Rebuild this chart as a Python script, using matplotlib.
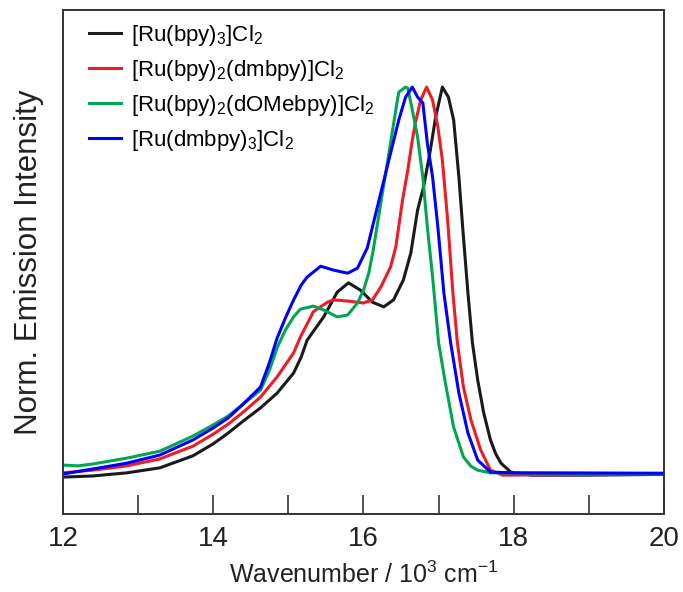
import matplotlib
matplotlib.use("Agg")
import matplotlib.pyplot as plt

plt.rcParams['font.family'] = ['Liberation Sans', 'DejaVu Sans']
plt.rcParams['mathtext.fontset'] = 'custom'
plt.rcParams['mathtext.rm'] = 'Liberation Sans'
plt.rcParams['mathtext.it'] = 'Liberation Sans'
plt.rcParams['mathtext.bf'] = 'Liberation Sans'

labels = [r'[Ru(bpy)$_3$]Cl$_2$',
          r'[Ru(bpy)$_2$(dmbpy)]Cl$_2$',
          r'[Ru(bpy)$_2$(dOMebpy)]Cl$_2$',
          r'[Ru(dmbpy)$_3$]Cl$_2$']
colors = ['#1a1a1a', '#ee1c25', '#00a651', '#0000ff']

# [Ru(bpy)3]Cl2
w_black = [12.0, 12.4, 12.85, 13.29, 13.73, 14.0, 14.2, 14.4, 14.63, 14.85, 15.07, 15.17, 15.25,
           15.47, 15.65, 15.80, 15.96, 16.12, 16.27, 16.40, 16.53, 16.63, 16.72, 16.80, 16.89,
           16.96, 17.05, 17.13, 17.20, 17.27, 17.32, 17.39, 17.45, 17.52, 17.60, 17.69, 17.76,
           17.83, 17.96, 18.23, 19.0, 20.0]
i_black = [-0.008, -0.005, 0.003, 0.016, 0.047, 0.078, 0.106, 0.137, 0.171, 0.209, 0.261, 0.302,
           0.346, 0.406, 0.470, 0.494, 0.475, 0.444, 0.432, 0.450, 0.501, 0.571, 0.682, 0.742,
           0.837, 0.922, 1.0, 0.974, 0.915, 0.767, 0.638, 0.468, 0.339, 0.243, 0.158, 0.088,
           0.052, 0.028, 0.005, -0.003, -0.003, -0.001]

# [Ru(bpy)2(dmbpy)]Cl2
w_red = [12.0, 12.4, 12.85, 13.29, 13.73, 14.0, 14.2, 14.4, 14.63, 14.85, 15.07, 15.16, 15.29,
         15.33, 15.52, 15.60, 15.79, 16.00, 16.12, 16.23, 16.36, 16.43, 16.52, 16.59, 16.65,
         16.69, 16.76, 16.84, 16.92, 16.99, 17.05, 17.12, 17.19, 17.25, 17.33, 17.43, 17.56,
         17.69, 17.85, 18.5, 20.0]
i_red = [0.003, 0.010, 0.021, 0.039, 0.072, 0.103, 0.129, 0.160, 0.199, 0.251, 0.313, 0.354,
         0.403, 0.419, 0.444, 0.450, 0.447, 0.442, 0.450, 0.483, 0.535, 0.587, 0.708, 0.786,
         0.863, 0.907, 0.966, 1.0, 0.966, 0.897, 0.811, 0.656, 0.468, 0.339, 0.225, 0.140,
         0.062, 0.010, -0.003, -0.002, 0.0]

# [Ru(bpy)2(dOMebpy)]Cl2
w_green = [12.0, 12.2, 12.4, 12.85, 13.29, 13.73, 14.0, 14.2, 14.4, 14.63, 14.75, 14.85, 14.96,
           15.07, 15.16, 15.29, 15.33, 15.47, 15.65, 15.79, 15.92, 16.00, 16.07, 16.13, 16.23,
           16.36, 16.43, 16.47, 16.56, 16.59, 16.65, 16.72, 16.79, 16.85, 16.92, 17.00, 17.09,
           17.20, 17.33, 17.43, 17.52, 17.69, 18.5, 20.0]
i_green = [0.023, 0.021, 0.026, 0.041, 0.059, 0.098, 0.127, 0.150, 0.181, 0.217, 0.269, 0.326,
           0.372, 0.406, 0.426, 0.432, 0.434, 0.424, 0.406, 0.411, 0.442, 0.475, 0.519, 0.579,
           0.700, 0.855, 0.941, 0.987, 1.0, 0.997, 0.941, 0.871, 0.767, 0.638, 0.509, 0.339,
           0.235, 0.121, 0.044, 0.020, 0.010, 0.003, 0.002, 0.001]

# [Ru(dmbpy)3]Cl2
w_blue = [12.0, 12.4, 12.85, 13.29, 13.73, 14.0, 14.2, 14.4, 14.63, 14.75, 14.85, 14.96, 15.07,
          15.17, 15.25, 15.43, 15.60, 15.79, 15.92, 16.05, 16.23, 16.36, 16.47, 16.56, 16.65,
          16.72, 16.79, 16.85, 16.92, 16.99, 17.07, 17.16, 17.27, 17.39, 17.52, 17.69, 18.0,
          20.0]
i_blue = [0.0, 0.013, 0.028, 0.049, 0.088, 0.119, 0.145, 0.181, 0.225, 0.289, 0.351, 0.403,
          0.450, 0.488, 0.509, 0.537, 0.527, 0.519, 0.532, 0.584, 0.726, 0.829, 0.915, 0.974,
          1.0, 0.974, 0.959, 0.855, 0.767, 0.638, 0.468, 0.339, 0.209, 0.106, 0.036, 0.005,
          0.003, 0.002]

xticks = [12, 13, 14, 15, 16, 17, 18, 19, 20]
xticklabels = ['12', '', '14', '', '16', '', '18', '', '20']

fig = plt.figure(figsize=(6.83, 5.92), dpi=100)
ax = fig.add_axes([0.0922, 0.132, 0.880, 0.851])

series = [(w_black, i_black), (w_red, i_red), (w_green, i_green), (w_blue, i_blue)]
for (w, i), c, lab in zip(series, colors, labels):
    ax.plot(w, i, color=c, lw=2.2, label=lab, solid_joinstyle='round')

ax.set_xlim(12, 20)
ax.set_ylim(-0.103, 1.199)
ax.set_xticks(xticks)
ax.set_xticklabels(xticklabels)
ax.set_yticks([])
ax.tick_params(axis='x', direction='in', length=14, width=1.2, color='#333333',
               labelsize=20, pad=9, labelcolor='#222222')
for s in ax.spines.values():
    s.set_color('#333333')
    s.set_linewidth(1.4)

ax.set_xlabel('Wavenumber / 10$^3$ cm$^{\u2212 1}$', fontsize=18, color='#222222', labelpad=7)
ax.set_ylabel('Norm. Emission Intensity', fontsize=22.5, color='#222222', labelpad=14)

leg = ax.legend(loc='upper left', bbox_to_anchor=(0.01, 1.014), frameon=False, fontsize=16,
                handlelength=1.45, handletextpad=0.45, labelspacing=0.45)

fig.savefig('out.png', dpi=100)
